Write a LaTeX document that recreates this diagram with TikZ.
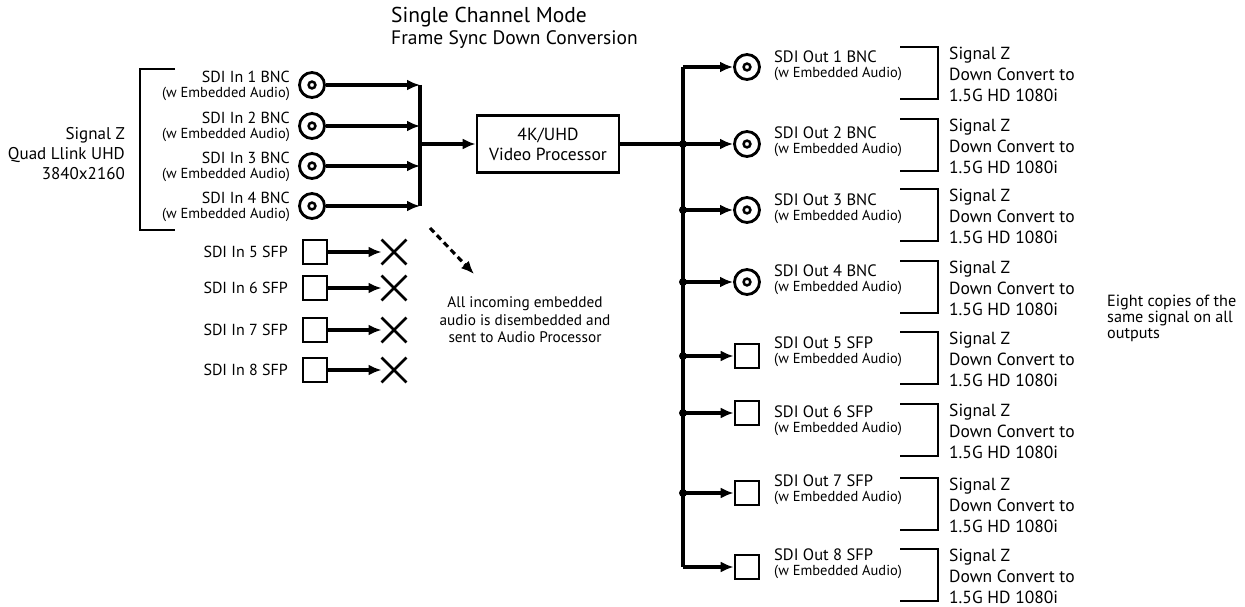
\documentclass[tikz,border=0pt]{standalone}
\usepackage{fontspec}
\setmainfont{PT Sans}
\usetikzlibrary{arrows.meta,shapes.misc,positioning}
\tikzstyle{bnc}=[circle,line width=2.8pt,minimum size=25pt,inner sep=0pt,draw=black,
path picture={\draw[line width=2.5pt] (path picture bounding box.center) circle (3.4pt);}]
\tikzstyle{sfp}=[rectangle,line width=2.7pt,minimum size=24pt,inner sep=0pt,draw=black]
\tikzstyle{nix}=[cross out,line width=2.8pt,minimum size=22pt,inner sep=0pt,draw=black]
\tikzstyle{sig}=[line width=3.1pt,-{Latex[length=13pt,width=11pt]}]
\tikzstyle{bus}=[line width=3.1pt]
\tikzstyle{brk}=[line width=2.6pt]
\tikzstyle{jn}=[circle,fill=black,inner sep=0pt,minimum size=8pt]
\tikzstyle{port}=[align=right,font=\fontsize{16}{15}\selectfont,inner sep=0pt]
\tikzstyle{oport}=[align=left,anchor=west,font=\fontsize{16.5}{15}\selectfont,inner sep=0pt]
\newcommand{\emb}{{\fontsize{14.5}{14}\selectfont (w Embedded Audio)}}

\begin{document}
\begin{tikzpicture}[x=1pt,y=-1pt]
    \useasboundingbox (0,0) rectangle (1245,607);
    % title
    \node[anchor=west,inner sep=0pt,font=\fontsize{21.5}{19}\selectfont] (title) at (391,17) {Single Channel Mode};
    \node[anchor=west,inner sep=0pt,font=\fontsize{19.5}{17}\selectfont] (subtitle) at (391,40) {Frame Sync Down Conversion};
    % quad link inputs
    \node[anchor=east,align=right,inner sep=0pt,font=\fontsize{17}{20}\selectfont] (quad) at (125,154) {Signal Z\\Quad Llink UHD\\3840x2160};
    \draw[brk] (175,69) -- (140,69) -- (140,230) -- (175,230);
    \foreach \i/\y in {1/85,2/126,3/166,4/206} {
      \node[bnc] (in\i) at (312,\y) {};
      \node[port,anchor=east] (inlbl\i) at (290,\y+1) {SDI In \i\ BNC\\\emb};
      \coordinate (inbus\i) at (420,\y);
      \draw[sig] (in\i) -- (inbus\i);
    }
    \draw[bus] (inbus1) -- (inbus4);
    \coordinate (inmid) at (420,144);
    % video processor
    \node[draw,line width=2.7pt,minimum width=142pt,minimum height=57pt,align=center,
      font=\fontsize{17.5}{20}\selectfont] (vp) at (548,144) {4K/UHD\\Video Processor};
    \draw[sig] (inmid) -- (vp);
    % unused SFP inputs
    \foreach \i/\y in {5/252,6/288,7/330,8/370} {
      \node[sfp] (sfpin\i) at (315,\y) {};
      \node[port,anchor=east] (sfplbl\i) at (288,\y) {SDI In \i\ SFP};
      \node[nix] (nix\i) at (394,\y) {};
      \draw[sig] (sfpin\i) -- (nix\i);
    }
    % audio note
    \coordinate (dstart) at (430,228);
    \coordinate (dend) at (474,274);
    \draw[sig,dash pattern=on 6pt off 4pt] (dstart) -- (dend);
    \node[align=center,inner sep=0pt,font=\fontsize{15.3}{17.5}\selectfont] (note) at (525,320)
      {All incoming embedded\\audio is disembedded and\\sent to Audio Processor};
    % outputs
    \foreach \i/\y/\ly/\b in {1/67/66/47,2/144/142/119,3/210/209/189,4/282/280/261} {
      \coordinate (ob\i) at (683,\y);
      \node[bnc] (out\i) at (747,\y) {};
      \node[oport] (outlbl\i) at (774,\ly) {SDI Out \i\ BNC\\\emb};
      \draw[sig] (ob\i) -- (out\i);
      \draw[brk] (900,\b) -- (938,\b) -- (938,\b+52) -- (900,\b+52);
      \node[anchor=west,align=left,inner sep=0pt,font=\fontsize{17.5}{21}\selectfont] (sz\i) at (949,\b+27)
        {Signal Z\\Down Convert to\\1.5G HD 1080i};
    }
    \foreach \i/\y/\ly/\b in {5/356/352/332,6/413/421/404,7/493/490/478,8/567/564/549} {
      \coordinate (ob\i) at (683,\y);
      \node[sfp] (out\i) at (747,\y) {};
      \node[oport] (outlbl\i) at (774,\ly) {SDI Out \i\ SFP\\\emb};
      \draw[sig] (ob\i) -- (out\i);
      \draw[brk] (900,\b) -- (938,\b) -- (938,\b+52) -- (900,\b+52);
      \node[anchor=west,align=left,inner sep=0pt,font=\fontsize{17.5}{21}\selectfont] (sz\i) at (949,\b+27)
        {Signal Z\\Down Convert to\\1.5G HD 1080i};
    }
    \draw[bus] (vp) -- (ob2);
    \draw[bus] (ob1) -- (ob8);
    \foreach \i in {2,...,7} \node[jn] at (ob\i) {};
    \node[anchor=west,align=left,inner sep=0pt,font=\fontsize{16.2}{16}\selectfont] (copies) at (1107,318)
      {Eight copies of the\\same signal on all\\outputs};
\end{tikzpicture}
\end{document}
